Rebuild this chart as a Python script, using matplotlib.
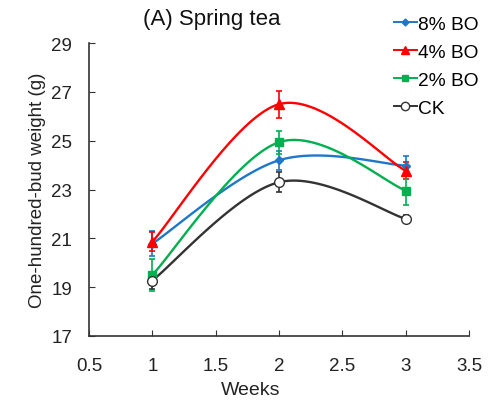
import numpy as np
import matplotlib.pyplot as plt

plt.rcParams['font.family'] = ['Liberation Sans', 'DejaVu Sans']

weeks = [1, 2, 3]
bo8 = [20.78, 24.2, 23.98]
bo8_err = [0.5, 0.4, 0.4]
bo4 = [20.86, 26.5, 23.77]
bo4_err = [0.4, 0.55, 0.35]
bo2 = [19.5, 24.94, 22.96]
bo2_err = [0.65, 0.48, 0.6]
ck = [19.27, 23.3, 21.8]
ck_err = [0.35, 0.4, 0.15]

labels = ['8% BO', '4% BO', '2% BO', 'CK']
colors = ['#1f77c8', '#ff0000', '#00b050', '#333333']
markers = ['D', '^', 's', 'o']
msizes = [4.5, 6.5, 6, 7]


def smooth(x, y, n=40):
    # bezier curve through points, like the spreadsheet "smoothed line"
    x = np.asarray(x, float)
    y = np.asarray(y, float)
    px = np.concatenate([[x[0]], x, [x[-1]]])
    py = np.concatenate([[y[0]], y, [y[-1]]])
    xs, ys = [], []
    t = np.linspace(0, 1, n)
    for i in range(1, len(px) - 2):
        p0 = np.array([px[i], py[i]])
        p3 = np.array([px[i + 1], py[i + 1]])
        c1 = p0 + (np.array([px[i + 1], py[i + 1]]) - np.array([px[i - 1], py[i - 1]])) / 6
        c2 = p3 - (np.array([px[i + 2], py[i + 2]]) - np.array([px[i], py[i]])) / 6
        b = ((1 - t) ** 3)[:, None] * p0 + (3 * (1 - t) ** 2 * t)[:, None] * c1 \
            + (3 * (1 - t) * t ** 2)[:, None] * c2 + (t ** 3)[:, None] * p3
        xs.extend(b[:, 0])
        ys.extend(b[:, 1])
    return xs, ys


fig = plt.figure(figsize=(4.89, 4.02), dpi=100)
ax = fig.add_axes([0.182, 0.162, 0.777, 0.728])

series = [(bo8, bo8_err), (bo4, bo4_err), (bo2, bo2_err), (ck, ck_err)]
handles = []
for (vals, errs), lab, c, m, ms in zip(series, labels, colors, markers, msizes):
    sx, sy = smooth(weeks, vals)
    ax.plot(sx, sy, color=c, lw=1.7, zorder=2)
    ax.errorbar(weeks, vals, yerr=errs, fmt='none', ecolor=c, elinewidth=1.2,
                capsize=2.5, capthick=1.2, zorder=3)
    face = 'white' if m == 'o' else c
    ax.plot(weeks, vals, ls='none', marker=m, ms=ms, color=c,
            markerfacecolor=face, markeredgecolor=c, zorder=4)
    h, = ax.plot([], [], color=c, lw=1.4, marker=m, ms=ms - 1,
                 markerfacecolor=face, markeredgecolor=c)
    handles.append(h)

ax.set_xlim(0.5, 3.5)
ax.set_ylim(17, 29)
ax.set_xticks(np.arange(0.5, 3.6, 0.5))
ax.set_xticklabels(['0.5', '1', '1.5', '2', '2.5', '3', '3.5'])
ax.set_yticks(range(17, 30, 2))
ax.tick_params(direction='in', length=4, labelsize=13.5, color='#333333',
               labelcolor='#222222')
ax.tick_params(axis='x', pad=15)
ax.tick_params(axis='y', pad=12)
for s in ['top', 'right']:
    ax.spines[s].set_visible(False)
for s in ['left', 'bottom']:
    ax.spines[s].set_color('#333333')
    ax.spines[s].set_linewidth(1.2)

ax.set_xlabel('Weeks', fontsize=14, color='#222222', labelpad=5)
ax.xaxis.label.set_x(0.426)
ax.set_ylabel('One-hundred-bud weight (g)', fontsize=13.5, color='#222222', labelpad=4)

fig.text(0.433, 0.952, '(A) Spring tea', ha='center', va='center', fontsize=16,
         color='#111111')

fig.legend(handles, labels, loc='upper right', bbox_to_anchor=(1.0, 0.985),
           frameon=False, fontsize=13.8, handlelength=1.2, handletextpad=0.05,
           labelspacing=0.55, borderaxespad=0.15)

fig.savefig('out.png', dpi=100)
